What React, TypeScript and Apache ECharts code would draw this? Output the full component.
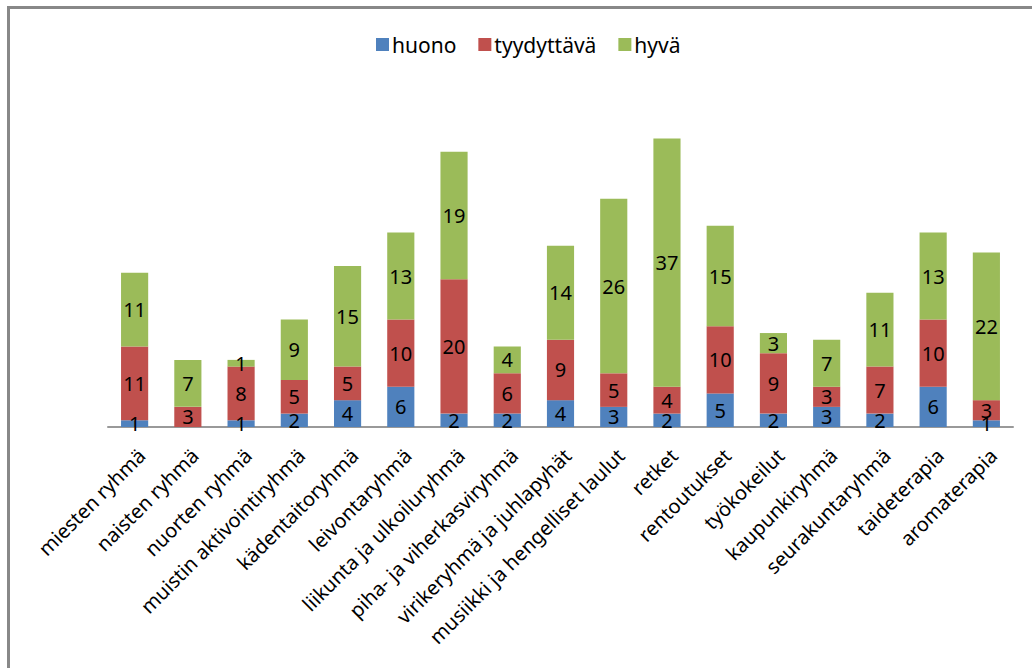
import React, { useEffect, useRef } from "react";
import * as echarts from "echarts";

const categories = [
  "miesten ryhmä",
  "naisten ryhmä",
  "nuorten ryhmä",
  "muistin aktivointiryhmä",
  "kädentaitoryhmä",
  "leivontaryhmä",
  "liikunta ja ulkoiluryhmä",
  "piha- ja viherkasviryhmä",
  "virikeryhmä ja juhlapyhät",
  "musiikki ja hengelliset laulut",
  "retket",
  "rentoutukset",
  "työkokeilut",
  "kaupunkiryhmä",
  "seurakuntaryhmä",
  "taideterapia",
  "aromaterapia",
];
const huono = [1, 0, 1, 2, 4, 6, 2, 2, 4, 3, 2, 5, 2, 3, 2, 6, 1];
const tyydyttava = [11, 3, 8, 5, 5, 10, 20, 6, 9, 5, 4, 10, 9, 3, 7, 10, 3];
const hyva = [11, 7, 1, 9, 15, 13, 19, 4, 14, 26, 37, 15, 3, 7, 11, 13, 22];

const FONT = "Noto Sans";

export default function App() {
  const ref = useRef<HTMLDivElement>(null);
  useEffect(() => {
    if (!ref.current) return;
    const chart = echarts.init(ref.current, null, { renderer: "svg" });
    const label = {
      show: true,
      position: "inside",
      color: "#000",
      fontFamily: FONT,
      fontSize: 20,
      formatter: (p: any) => (p.value ? String(p.value) : ""),
    };
    const mk = (name: string, data: number[], color: string) => ({
      name,
      type: "bar",
      stack: "a",
      data,
      barWidth: "51%",
      itemStyle: { color },
      label,
    });
    chart.setOption({
      animation: false,
      graphic: [
        {
          type: "rect",
          shape: { x: 8.5, y: 7.5, width: 1100, height: 800 },
          style: { fill: "none", stroke: "#888", lineWidth: 3 },
          silent: true,
        },
      ],
      legend: {
        top: 29,
        left: 371,
        itemWidth: 13,
        itemHeight: 13,
        itemGap: 22,
        icon: "rect",
        textStyle: { fontFamily: FONT, fontSize: 21, color: "#000", padding: [0, 0, 0, -2] },
        data: ["huono", "tyydyttävä", "hyvä"],
      },
      grid: { left: 108, top: 125, width: 905, height: 302, containLabel: false },
      xAxis: {
        type: "category",
        data: categories,
        axisLine: { lineStyle: { color: "#999", width: 2 } },
        axisTick: { show: false },
        axisLabel: {
          rotate: 45,
          interval: 0,
          margin: 18,
          align: "right",
          verticalAlign: "top",
          color: "#000",
          fontFamily: FONT,
          fontSize: 20,
        },
      },
      yAxis: {
        type: "value",
        min: 0,
        max: 45,
        interval: 5,
        show: false,
        splitLine: { show: false },
      },
      series: [
        mk("huono", huono, "#4F81BD"),
        mk("tyydyttävä", tyydyttava, "#C0504D"),
        mk("hyvä", hyva, "#9BBB59"),
      ],
    });
    return () => chart.dispose();
  }, []);
  return (
    <div
      ref={ref}
      style={{ position: "fixed", left: 0, top: 0, width: 1032, height: 668, background: "#fff" }}
    />
  );
}
